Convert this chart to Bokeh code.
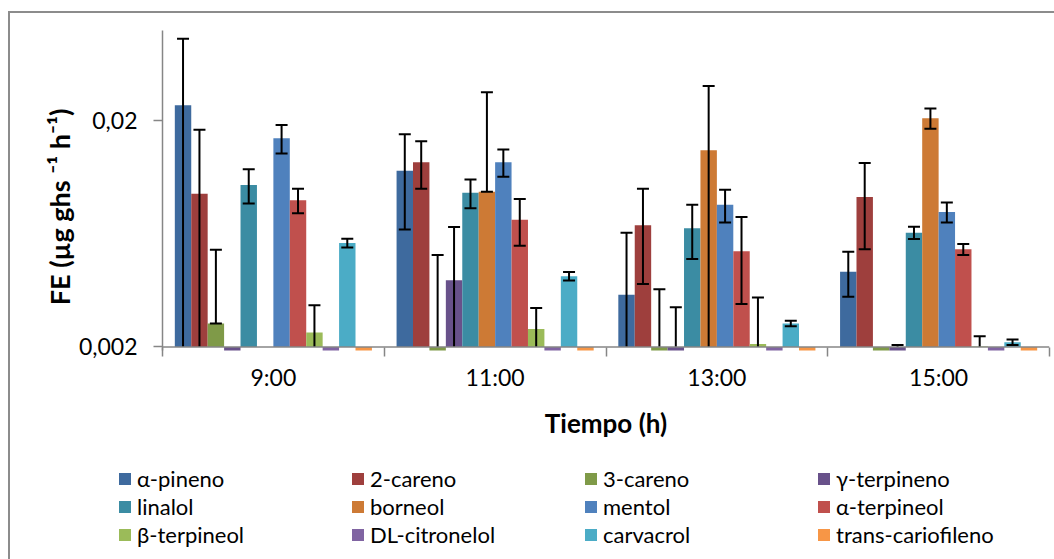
import math
from bokeh.plotting import figure
from bokeh.layouts import column
from bokeh.models import (Range1d, FixedTicker, CustomJSTickFormatter, Span, Legend,
                          LegendItem)
from bokeh.embed import file_html
from bokeh.resources import INLINE

nan = float("nan")

# categories
times = ["9:00", "11:00", "13:00", "15:00"]

# series names and colours
series = ["α-pineno", "2-careno", "3-careno", "γ-terpineno", "linalol", "borneol",
          "mentol", "α-terpineol", "β-terpineol", "DL-citronelol", "carvacrol",
          "trans-cariofileno"]
colors = ["#3E6A9E", "#9E3F3D", "#7F9A48", "#68518A", "#3B8CA3", "#CD7A35",
          "#4F81BD", "#C0504D", "#9BBB59", "#8064A2", "#4BACC6", "#F79646"]

# values (FE, ug ghs-1 h-1) per time
a_pineno = [0.0234, 0.0120, 0.0034, 0.0043]
careno_2 = [0.0095, 0.0131, 0.0069, 0.0092]
careno_3 = [0.00254, 0.0005, 0.0005, 0.0005]
g_terpineno = [0.0005, 0.00394, 0.0005, 0.0005]
linalol = [0.0104, 0.0096, 0.0067, 0.0064]
borneol = [nan, 0.0097, 0.0148, 0.0205]
mentol = [0.0167, 0.0131, 0.0085, 0.0079]
a_terpineol = [0.0089, 0.0073, 0.0053, 0.0054]
b_terpineol = [0.00232, 0.0024, 0.00206, 0.00201]
dl_citronelol = [0.0005, 0.0005, 0.0005, 0.0005]
carvacrol = [0.00576, 0.00411, 0.00254, 0.0021]
trans_cariofileno = [0.0005, 0.0005, 0.0005, 0.0005]

# error bars: plus / minus
a_pineno_ep = [0.0226, 0.0054, 0.0030, 0.00097]
a_pineno_em = [0.0226, 0.0054, 0.0030, 0.00097]
careno_2_ep = [0.0087, 0.0031, 0.0031, 0.0038]
careno_2_em = [0.0087, 0.0031, 0.0031, 0.0038]
careno_3_ep = [0.00284, 0.0046, 0.0031, nan]
careno_3_em = [0.0, 0.0046, 0.0031, nan]
g_terpineno_ep = [nan, 0.00284, 0.0025, 0.00154]
g_terpineno_em = [nan, 0.00284, 0.0025, 0.00154]
linalol_ep = [0.0018, 0.0014, 0.0018, 0.0004]
linalol_em = [0.0018, 0.0014, 0.0018, 0.0004]
borneol_ep = [nan, 0.0170, 0.0136, 0.0021]
borneol_em = [nan, 0.0, 0.0136, 0.0021]
mentol_ep = [0.0024, 0.0018, 0.0014, 0.0008]
mentol_em = [0.0024, 0.0018, 0.0014, 0.0008]
a_terpineol_ep = [0.0011, 0.0017, 0.0022, 0.0003]
a_terpineol_em = [0.0011, 0.0017, 0.0022, 0.0003]
b_terpineol_ep = [0.00074, 0.00057, 0.00125, 0.00022]
b_terpineol_em = [0.00074, 0.00057, 0.00125, 0.00022]
dl_citronelol_ep = [nan, nan, nan, nan]
dl_citronelol_em = [nan, nan, nan, nan]
carvacrol_ep = [0.00026, 0.00018, 0.00007, 0.00006]
carvacrol_em = [0.00026, 0.00018, 0.00007, 0.00006]
trans_cariofileno_ep = [nan, nan, nan, nan]
trans_cariofileno_em = [nan, nan, nan, nan]

values = [a_pineno, careno_2, careno_3, g_terpineno, linalol, borneol, mentol,
          a_terpineol, b_terpineol, dl_citronelol, carvacrol, trans_cariofileno]
err_plus = [a_pineno_ep, careno_2_ep, careno_3_ep, g_terpineno_ep, linalol_ep, borneol_ep,
            mentol_ep, a_terpineol_ep, b_terpineol_ep, dl_citronelol_ep, carvacrol_ep,
            trans_cariofileno_ep]
err_minus = [a_pineno_em, careno_2_em, careno_3_em, g_terpineno_em, linalol_em, borneol_em,
             mentol_em, a_terpineol_em, b_terpineol_em, dl_citronelol_em, carvacrol_em,
             trans_cariofileno_em]

y_base = 0.002
y_tick_values = [0.002, 0.02]

FONT = "Lato"
AXIS_GREY = "#868686"
BORDER = "#8C8C8C"

# ---------------- main chart ----------------
p = figure(width=1054, height=445, x_range=Range1d(0, 4), y_range=Range1d(0.00193, 0.05),
           y_axis_type="log", output_backend="svg", toolbar_location=None,
           min_border_left=162, min_border_right=5, min_border_top=30,
           min_border_bottom=95)
p.xgrid.visible = False
p.ygrid.visible = False
p.outline_line_color = None
p.background_fill_color = "white"
p.border_fill_color = None

n = len(series)
w = 1.0 / (n + 1.5)

seg_x, seg_y0, seg_y1 = [], [], []
cap_x, cap_y = [], []
for j in range(n):
    xs = [i + 0.5 + (j - (n - 1) / 2.0) * w for i in range(len(times))]
    p.vbar(x=xs, top=values[j], bottom=y_base, width=w, fill_color=colors[j],
           line_color=None)
    for i in range(len(times)):
        v, ep, em = values[j][i], err_plus[j][i], err_minus[j][i]
        if math.isnan(v) or math.isnan(ep):
            continue
        up = v + ep
        lo = v - em
        seg_x.append(xs[i]); seg_y0.append(max(lo, y_base)); seg_y1.append(max(up, y_base))
        cap_x.append(xs[i]); cap_y.append(up)
        if lo >= y_base:
            cap_x.append(xs[i]); cap_y.append(lo)

p.segment(x0=seg_x, y0=seg_y0, x1=seg_x, y1=seg_y1, line_color="black", line_width=2)
p.scatter(x=cap_x, y=cap_y, marker="dash", size=12, line_color="black", line_width=2)

p.add_layout(Span(location=y_base, dimension="width", line_color=AXIS_GREY, line_width=1.5))

xa = p.xaxis[0]
xa.ticker = FixedTicker(ticks=[i + 0.5 for i in range(len(times))],
                        minor_ticks=[float(i) for i in range(len(times) + 1)])
xa.formatter = CustomJSTickFormatter(args=dict(labels=times),
                                     code="return labels[Math.floor(tick)]")
xa.axis_line_color = None
xa.major_tick_line_color = None
xa.major_tick_out = 0
xa.major_tick_in = 0
xa.minor_tick_line_color = AXIS_GREY
xa.minor_tick_line_width = 1.5
xa.minor_tick_in = 3
xa.minor_tick_out = 6
xa.major_label_text_font = FONT
xa.major_label_text_font_size = "23px"
xa.major_label_text_color = "black"
xa.major_label_standoff = 6
xa.axis_label = "Tiempo (h)"
xa.axis_label_text_font = FONT
xa.axis_label_text_font_size = "26px"
xa.axis_label_text_font_style = "bold"
xa.axis_label_text_color = "black"
xa.axis_label_standoff = 13

ya = p.yaxis[0]
ya.ticker = FixedTicker(ticks=y_tick_values, minor_ticks=[])
ya.formatter = CustomJSTickFormatter(code="return tick.toString().replace('.', ',')")
ya.axis_line_color = AXIS_GREY
ya.axis_line_width = 1.5
ya.major_tick_line_color = AXIS_GREY
ya.major_tick_line_width = 1.5
ya.major_tick_out = 9
ya.major_tick_in = 0
ya.minor_tick_line_color = None
ya.major_label_text_font = FONT
ya.major_label_text_font_size = "23px"
ya.major_label_text_color = "black"
ya.major_label_standoff = 16
ya.axis_label = "FE (µg ghs ⁻¹ h⁻¹)" + "\u00a0" * 5
ya.axis_label_text_font = FONT
ya.axis_label_text_font_size = "27px"
ya.axis_label_text_font_style = "bold"
ya.axis_label_text_color = "black"
ya.axis_label_standoff = 0

# ---------------- legend strip ----------------
lg = figure(width=1054, height=114, x_range=Range1d(0, 1), y_range=Range1d(0, 1),
            output_backend="svg", toolbar_location=None,
            x_axis_location=None, y_axis_location=None,
            min_border_left=0, min_border_right=0, min_border_top=0, min_border_bottom=0)
if hasattr(lg, "frame_align"):
    lg.frame_align = False
lg.xgrid.visible = False
lg.ygrid.visible = False
lg.outline_line_color = None
lg.background_fill_color = None
lg.border_fill_color = None

items = []
for j in range(n):
    # legend-only renderer (no visible mark), carries the series colour
    r = lg.vbar(x=[nan], top=[nan], width=0.1, fill_color=colors[j], line_color=None)
    items.append(LegendItem(label=series[j], renderers=[r]))

legend = Legend(items=items, ncols=4, orientation="horizontal", location=(117, 11),
                glyph_width=15, glyph_height=15, label_width=212, label_height=27,
                label_standoff=5, spacing=1, padding=0, margin=0,
                border_line_color=None, background_fill_alpha=0, label_text_font=FONT,
                label_text_font_size="22px", label_text_color="black")
lg.add_layout(legend, "center")

layout = column(p, lg, spacing=0)
# chart-area border (left and top edges visible in the window)
layout.styles = {
    "background": (f"linear-gradient({BORDER},{BORDER}) 8px 11px / 2px 560px no-repeat, "
                   f"linear-gradient({BORDER},{BORDER}) 8px 11px / 1060px 2px no-repeat, white"),
}

open("out.html", "w").write(file_html(layout, INLINE))
